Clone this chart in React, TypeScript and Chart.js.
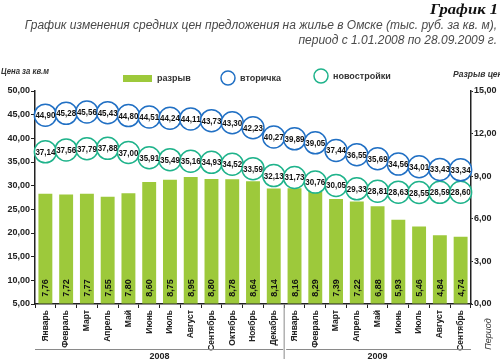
import React, { useEffect, useRef } from "react";
import { Chart, registerables } from "chart.js";

Chart.register(...registerables);

const months = [
  "Январь", "Февраль", "Март", "Апрель", "Май", "Июнь", "Июль", "Август", "Сентябрь", "Октябрь", "Ноябрь", "Декабрь",
  "Январь", "Февраль", "Март", "Апрель", "Май", "Июнь", "Июль", "Август", "Сентябрь",
];
const years = ["2008", "2009"];
const yearSizes = [12, 9];

const gap = [7.76, 7.72, 7.77, 7.55, 7.80, 8.60, 8.75, 8.95, 8.80, 8.78, 8.64, 8.14, 8.16, 8.29, 7.39, 7.22, 6.88, 5.93, 5.46, 4.84, 4.74];
const secondary = [44.90, 45.28, 45.56, 45.43, 44.80, 44.51, 44.24, 44.11, 43.73, 43.30, 42.23, 40.27, 39.89, 39.05, 37.44, 36.55, 35.69, 34.56, 34.01, 33.43, 33.34];
const newBuild = [37.14, 37.56, 37.79, 37.88, 37.00, 35.91, 35.49, 35.16, 34.93, 34.52, 33.59, 32.13, 31.73, 30.76, 30.05, 29.33, 28.81, 28.63, 28.55, 28.59, 28.60];

const title = "График 1";
const subtitle1 = "График изменения средних цен предложения на жилье в Омске (тыс. руб. за кв. м),";
const subtitle2 = "период с 1.01.2008 по 28.09.2009 г.";
const leftTitle = "Цена за кв.м";
const rightTitle = "Разрыв цен";
const xTitle = "Период";

const BLUE = "#2170c4";
const TEAL = "#1fb38b";
const GREEN = "#9dc93b";
const SANS = "'Liberation Sans', Arial, sans-serif";
const fmt = (v: number) => v.toFixed(2).replace(".", ",");

const decor = {
  id: "decor",
  afterDatasetsDraw(chart: any) {
    const ctx = chart.ctx;
    ctx.save();
    ctx.fillStyle = "#111";
    ctx.font = `bold 9px ${SANS}`;
    ctx.textAlign = "center";
    ctx.textBaseline = "middle";
    [0, 1].forEach((di) => {
      const meta = chart.getDatasetMeta(di);
      meta.data.forEach((pt: any, i: number) => {
        const v = chart.data.datasets[di].data[i] as number;
        ctx.fillText(fmt(v), pt.x, pt.y + 0.5, 20);
      });
    });
    const bm = chart.getDatasetMeta(2);
    bm.data.forEach((b: any, i: number) => {
      ctx.save();
      ctx.translate(b.x, 288);
      ctx.rotate(-Math.PI / 2);
      ctx.fillText(fmt(gap[i]), 0, 0.5);
      ctx.restore();
    });
    ctx.restore();
  },
  afterDraw(chart: any) {
    const ctx = chart.ctx;
    const x = chart.scales.x;
    const area = chart.chartArea;
    ctx.save();
    // title
    ctx.textAlign = "right";
    ctx.textBaseline = "alphabetic";
    ctx.fillStyle = "#111";
    ctx.font = "bold italic 15px 'Liberation Serif', serif";
    const tw = ctx.measureText(title).width;
    ctx.save();
    ctx.translate(498, 14);
    ctx.scale(68 / tw, 1);
    ctx.fillText(title, 0, 0);
    ctx.restore();
    ctx.fillStyle = "#4a4a4a";
    ctx.font = "italic 12px 'Liberation Sans', Arial, sans-serif";
    ctx.fillText(subtitle1, 497, 29, 487);
    ctx.fillText(subtitle2, 497, 44, 217);

    // axis titles
    ctx.fillStyle = "#333";
    ctx.font = `bold italic 8.5px ${SANS}`;
    ctx.textAlign = "left";
    ctx.textBaseline = "middle";
    ctx.fillText(leftTitle, 1, 72, 48);
    ctx.fillText(rightTitle, 453, 75);

    // legend
    ctx.font = `bold 9px ${SANS}`;
    ctx.fillStyle = GREEN;
    ctx.fillRect(123, 75, 29, 7);
    ctx.fillStyle = "#333";
    ctx.fillText("разрыв", 157, 78.5);
    ctx.lineWidth = 1.5;
    ctx.strokeStyle = BLUE;
    ctx.beginPath();
    ctx.arc(228, 78, 7, 0, Math.PI * 2);
    ctx.stroke();
    ctx.fillText("вторичка", 240, 78.5);
    ctx.strokeStyle = TEAL;
    ctx.beginPath();
    ctx.arc(321, 76, 7, 0, Math.PI * 2);
    ctx.stroke();
    ctx.fillText("новостройки", 333, 76.5);

    // year groups
    const step = (x.right - x.left) / months.length;
    let start = 0;
    ctx.strokeStyle = "#8a8a8a";
    ctx.lineWidth = 1;
    ctx.textAlign = "center";
    ctx.fillStyle = "#222";
    ctx.font = `bold 9px ${SANS}`;
    years.forEach((yr, k) => {
      const l = x.getPixelForValue(start) - step / 2;
      const r = x.getPixelForValue(start + yearSizes[k] - 1) + step / 2;
      ctx.beginPath();
      ctx.moveTo(l + (k > 0 ? 2 : 0), 349.5);
      ctx.lineTo(r - (k < years.length - 1 ? 1 : 0), 349.5);
      ctx.stroke();
      ctx.fillText(yr, (l + r) / 2, 357);
      if (k > 0) {
        ctx.beginPath();
        ctx.moveTo(l, area.bottom);
        ctx.lineTo(l, 359);
        ctx.stroke();
      }
      start += yearSizes[k];
    });

    // x title
    ctx.save();
    ctx.translate(488, 334);
    ctx.rotate(-Math.PI / 2);
    ctx.fillStyle = "#333";
    ctx.font = `italic 9px ${SANS}`;
    ctx.fillText(xTitle, 0, 0);
    ctx.restore();
    ctx.restore();
  },
};

export default function App() {
  const ref = useRef<HTMLCanvasElement>(null);
  useEffect(() => {
    if (!ref.current) return;
    const tickFont = { family: SANS, size: 9, weight: "bold" as const };
    const xFont = { family: SANS, size: 8.5, weight: "bold" as const };
    const chart = new Chart(ref.current, {
      type: "bar",
      data: {
        labels: months,
        datasets: [
          {
            type: "line",
            label: "вторичка",
            data: secondary,
            yAxisID: "y",
            showLine: false,
            pointRadius: 11,
            pointBorderWidth: 1.5,
            pointBorderColor: BLUE,
            pointBackgroundColor: "#ffffff",
            borderColor: BLUE,
            backgroundColor: "#ffffff",
          } as any,
          {
            type: "line",
            label: "новостройки",
            data: newBuild,
            yAxisID: "y",
            showLine: false,
            pointRadius: 11,
            pointBorderWidth: 1.5,
            pointBorderColor: TEAL,
            pointBackgroundColor: "#ffffff",
            borderColor: TEAL,
            backgroundColor: "#ffffff",
          } as any,
          {
            type: "bar",
            label: "разрыв",
            data: gap,
            yAxisID: "y1",
            backgroundColor: GREEN,
            barPercentage: 0.67,
            categoryPercentage: 1,
          },
        ],
      },
      options: {
        animation: false,
        responsive: false,
        devicePixelRatio: 1,
        layout: { padding: { top: 91, left: 0, right: 0, bottom: 0 } },
        plugins: { legend: { display: false }, tooltip: { enabled: false } },
        scales: {
          x: {
            offset: true,
            afterFit: (s: any) => { s.height = 59; },
            grid: { drawOnChartArea: false, drawTicks: true, tickLength: 4, color: "#222", offset: true },
            border: { display: true, color: "#222", width: 1.5 },
            ticks: { font: xFont, color: "#222", maxRotation: 90, minRotation: 90, autoSkip: false, padding: 2 },
          },
          y: {
            position: "left",
            min: 5,
            max: 50,
            afterFit: (s: any) => { s.width = 35; },
            grid: { drawOnChartArea: false, tickLength: 4, color: "#222" },
            border: { display: true, color: "#222", width: 1.5 },
            ticks: { stepSize: 5, font: tickFont, color: "#222", padding: 1, callback: (v: any) => fmt(Number(v)) },
          },
          y1: {
            position: "right",
            min: 0,
            max: 15,
            afterFit: (s: any) => { s.width = 29; },
            grid: { drawOnChartArea: false, tickLength: 2, color: "#222" },
            border: { display: true, color: "#222", width: 1.5 },
            ticks: { stepSize: 3, font: tickFont, color: "#222", padding: 1, callback: (v: any) => fmt(Number(v)) },
          },
        },
      },
      plugins: [decor],
    });
    return () => chart.destroy();
  }, []);
  return (
    <div style={{ position: "absolute", left: 0, top: 0, width: 500, height: 363, background: "#fff" }}>
      <canvas ref={ref} width={500} height={363} style={{ display: "block" }} />
    </div>
  );
}
